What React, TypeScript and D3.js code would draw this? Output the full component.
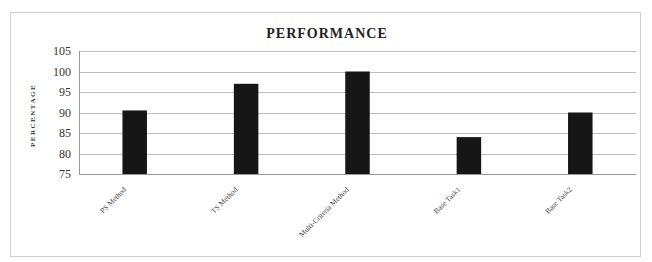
import React, { useEffect, useRef } from 'react';
import * as d3 from 'd3';

const categories = ['PS Method', 'TS Method', 'Multi-Criteria Method', 'Base Task1', 'Base Task2'];
const values = [90.5, 97, 100, 84, 90];
const yTicks = [75, 80, 85, 90, 95, 100, 105];

export default function App() {
  const svgRef = useRef<SVGSVGElement | null>(null);

  useEffect(() => {
    const svg = d3.select(svgRef.current);
    svg.selectAll('*').remove();

    const W = 652, H = 262;
    const m = { left: 79, right: 16, top: 51, bottom: 88 };

    // outer chart frame
    svg.append('rect')
      .attr('x', 10.5).attr('y', 12.5)
      .attr('width', 630).attr('height', 244)
      .attr('fill', '#fff').attr('stroke', '#cfcfcf');

    svg.append('text')
      .attr('x', 327).attr('y', 38)
      .attr('text-anchor', 'middle')
      .attr('font-family', 'Liberation Serif, serif')
      .attr('font-weight', 'bold')
      .attr('font-size', 14)
      .attr('letter-spacing', 1)
      .attr('fill', '#222')
      .text('PERFORMANCE');

    const x = d3.scaleBand().domain(categories)
      .range([m.left, W - m.right]).paddingInner(0.78).paddingOuter(0.39);
    const y = d3.scaleLinear().domain([75, 105]).range([H - m.bottom, m.top]);

    // gridlines
    svg.append('g').selectAll('line').data(yTicks.slice(1)).join('line')
      .attr('x1', m.left).attr('x2', W - m.right)
      .attr('y1', d => Math.round(y(d)) + 0.5).attr('y2', d => Math.round(y(d)) + 0.5)
      .attr('stroke', '#bdbdbd');

    // axes lines
    svg.append('line')
      .attr('x1', m.left + 0.5).attr('x2', m.left + 0.5)
      .attr('y1', y(105)).attr('y2', y(75))
      .attr('stroke', '#999');
    svg.append('line')
      .attr('x1', m.left).attr('x2', W - m.right)
      .attr('y1', Math.round(y(75)) + 0.5).attr('y2', Math.round(y(75)) + 0.5)
      .attr('stroke', '#999');

    svg.append('g').selectAll('text').data(yTicks).join('text')
      .attr('x', m.left - 8).attr('y', d => y(d) + 4)
      .attr('text-anchor', 'end')
      .attr('font-family', 'Liberation Serif, serif')
      .attr('font-size', 12)
      .attr('fill', '#333')
      .text(d => d);

    svg.append('text')
      .attr('transform', `translate(35,${(y(75) + y(105)) / 2 + 3}) rotate(-90)`)
      .attr('text-anchor', 'middle')
      .attr('font-family', 'Liberation Serif, serif')
      .attr('font-weight', 'bold')
      .attr('font-size', 7)
      .attr('letter-spacing', 1.5)
      .attr('fill', '#333')
      .text('PERCENTAGE');

    svg.append('g').selectAll('rect').data(values).join('rect')
      .attr('x', (d, i) => x(categories[i])!)
      .attr('y', d => y(d))
      .attr('width', x.bandwidth())
      .attr('height', d => y(75) - y(d))
      .attr('fill', '#161616');

    svg.append('g').selectAll('text').data(categories).join('text')
      .attr('transform', d => `translate(${x(d)! + x.bandwidth() / 2 - 8},${y(75) + 16}) rotate(-45)`)
      .attr('text-anchor', 'end')
      .attr('font-family', 'Liberation Serif, serif')
      .attr('font-size', 7.5)
      .attr('fill', '#444')
      .text(d => d);
  }, []);

  return (
    <svg ref={svgRef} width={652} height={262}
      style={{ position: 'absolute', left: 0, top: 0, background: '#fff' }} />
  );
}
